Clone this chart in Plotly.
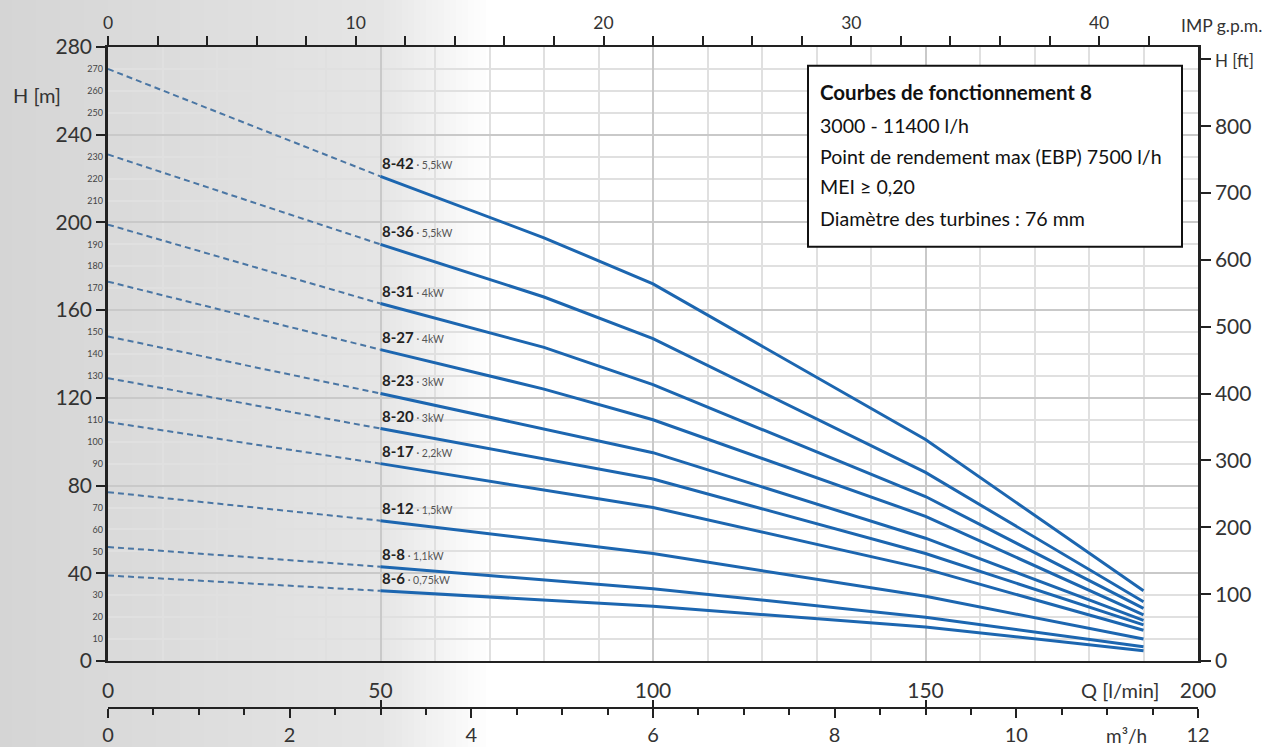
import plotly.graph_objects as go

# ---------------- data ----------------
Q_DASHED = [0, 50]                     # l/min, extrapolated part (dashed)
Q_SOLID = [50, 80, 100, 150, 190]      # l/min, operating range (solid)

MODELS = ["8-42", "8-36", "8-31", "8-27", "8-23", "8-20", "8-17", "8-12", "8-8", "8-6"]
POWERS = ["5,5kW", "5,5kW", "4kW", "4kW", "3kW", "3kW", "2,2kW", "1,5kW", "1,1kW", "0,75kW"]

# head H [m] at Q = 0, 50, 80, 100, 150, 190 l/min
H_8_42 = [270, 221, 193, 172, 101, 32]
H_8_36 = [231, 190, 166, 147, 86, 27]
H_8_31 = [199, 163, 143, 126, 75, 24]
H_8_27 = [173, 142, 124, 110, 66, 21]
H_8_23 = [148, 122, 106, 95, 56, 18.5]
H_8_20 = [129, 106, 92, 83, 49, 16.5]
H_8_17 = [109, 90, 78, 70, 42, 14]
H_8_12 = [77, 64, 55, 49, 29.5, 10]
H_8_8 = [52, 43, 37, 33, 20, 6.5]
H_8_6 = [39, 32, 28, 25, 15.5, 4.7]
HEADS = [H_8_42, H_8_36, H_8_31, H_8_27, H_8_23, H_8_20, H_8_17, H_8_12, H_8_8, H_8_6]

Q_TICKS = [0, 50, 100, 150, 200]
M3H_TICKS = [0, 2, 4, 6, 8, 10, 12]
GPM_TICKS = [0, 10, 20, 30, 40]
H_M_MAJOR = [0, 40, 80, 120, 160, 200, 240, 280]
H_M_MINOR = [v for v in range(10, 280, 10) if v % 40 != 0]
H_FT_TICKS = [0, 100, 200, 300, 400, 500, 600, 700, 800, 900]
H_FT_TEXT = ["0", "100", "200", "300", "400", "500", "600", "700", "800",
             "<span style='font-size:17px'>H [ft]</span>"]

INFO_TITLE = "Courbes de fonctionnement 8"
INFO_LINES = ["3000 - 11400 l/h",
              "Point de rendement max (EBP) 7500 l/h",
              "MEI \u2265 0,20",
              "Diamètre des turbines : 76 mm"]

# ---------------- geometry helpers ----------------
W, HGT = 1266, 747
ML, MR, MT, MB = 108, 68, 47, 0
PW = W - ML - MR
PH = HGT - MT - MB


def px(xp):
    return (xp - ML) / PW


def py(yp):
    return (HGT - MB - yp) / PH


Y_BOTTOM = 661
D0 = py(Y_BOTTOM)

FONT = "Lato, Roboto, sans-serif"
TXT = "#333333"
BLUE = "#1c66b0"
DASHBLUE = "#4a76a4"

fig = go.Figure()

for name, pw, h in zip(MODELS, POWERS, HEADS):
    fig.add_trace(go.Scatter(x=Q_DASHED, y=h[:2], mode="lines",
                             line=dict(color=DASHBLUE, width=2, dash="6px,4px"),
                             hoverinfo="skip", showlegend=False))
    fig.add_trace(go.Scatter(x=Q_SOLID, y=h[1:], mode="lines",
                             line=dict(color=BLUE, width=3),
                             name=name, showlegend=False))
    fig.add_annotation(x=Q_SOLID[0], y=h[1], xref="x", yref="y",
                       text=f"<b>{name}</b><span style='font-size:10.5px;color:#555'> \u00b7 {pw}</span>",
                       showarrow=False, xanchor="left", yanchor="bottom", yshift=2, xshift=-1,
                       font=dict(family=FONT, size=15, color="#222"))

# background gradient strips on the left
shapes = []
step = 6
for xp in range(0, 510, step):
    c = xp + step / 2
    if c < 380:
        g = 213 + (229 - 213) * c / 380
    else:
        g = 229 + (255 - 229) * (c - 380) / 110
    g = int(min(255, round(g)))
    shapes.append(dict(type="rect", xref="paper", yref="paper",
                       x0=px(xp), x1=px(xp + step + 0.5), y0=0, y1=py(0),
                       fillcolor=f"rgb({g},{g},{g})", line=dict(width=0), layer="below"))

# info box
shapes.append(dict(type="rect", xref="paper", yref="paper",
                   x0=px(808), x1=px(1182), y0=py(246.7), y1=py(65.7),
                   fillcolor="white", line=dict(color="#111", width=2), layer="above"))

ann_y = [125, 156, 187, 218]
fig.add_annotation(x=px(818), y=py(92), xref="paper", yref="paper", text=f"<b>{INFO_TITLE}</b>",
                   showarrow=False, xanchor="left", yanchor="middle",
                   font=dict(family=FONT, size=20.5, color="#111"))
for t, yy in zip(INFO_LINES, ann_y):
    fig.add_annotation(x=px(818), y=py(yy), xref="paper", yref="paper", text=t,
                       showarrow=False, xanchor="left", yanchor="middle",
                       font=dict(family=FONT, size=19.6, color="#111"))

# axis titles
fig.add_annotation(x=px(37), y=py(95), xref="paper", yref="paper", text="H [m]", showarrow=False,
                   xanchor="center", yanchor="middle", font=dict(family=FONT, size=20, color=TXT))
fig.add_annotation(x=px(1221), y=py(26), xref="paper", yref="paper", text="IMP g.p.m.", showarrow=False,
                   xanchor="center", yanchor="middle", font=dict(family=FONT, size=17.5, color=TXT))
fig.add_annotation(x=px(1120), y=py(690), xref="paper", yref="paper", text="Q [l/min]", showarrow=False,
                   xanchor="center", yanchor="middle", font=dict(family=FONT, size=20, color=TXT))
fig.add_annotation(x=px(1126), y=py(735), xref="paper", yref="paper", text="m\u00b3/h", showarrow=False,
                   xanchor="center", yanchor="middle", font=dict(family=FONT, size=19, color=TXT))

axis_common = dict(zeroline=False, showgrid=False, fixedrange=True, automargin=False)

fig.update_layout(
    width=W, height=HGT,
    margin=dict(l=ML, r=MR, t=MT, b=MB, pad=0, autoexpand=False),
    paper_bgcolor="white", plot_bgcolor="rgba(0,0,0,0)",
    font=dict(family=FONT, color=TXT),
    shapes=shapes,
    showlegend=False,
    xaxis=dict(range=[0, 200], domain=[0, 1], anchor="y", side="bottom",
               tickmode="array", tickvals=Q_TICKS, ticktext=[str(v) for v in Q_TICKS],
               ticks="", ticklabelstandoff=10, tickfont=dict(size=21, color=TXT),
               showline=True, linecolor="#222", linewidth=2,
               showgrid=True, gridcolor="#c9c9c9", gridwidth=1.5,
               minor=dict(tickmode="linear", tick0=0, dtick=10, showgrid=True,
                          gridcolor="#e0e0e0", gridwidth=2, ticks=""),
               zeroline=False, fixedrange=True, automargin=False),
    xaxis2=dict(range=[0, 12], overlaying="x", anchor="free", position=py(708), side="bottom",
                tickmode="array", tickvals=M3H_TICKS, ticktext=[str(v) for v in M3H_TICKS],
                ticks="outside", ticklen=9, tickwidth=2, tickcolor="#222",
                tickfont=dict(size=20, color=TXT), ticklabelstandoff=0,
                minor=dict(tickmode="linear", tick0=0, dtick=0.5, ticks="outside",
                           ticklen=6, tickwidth=1.5, tickcolor="#222", showgrid=False),
                showline=True, linecolor="#222", linewidth=2, **axis_common),
    xaxis4=dict(range=[0, 200], overlaying="x", anchor="free", position=py(708), side="bottom",
                tickmode="array", tickvals=Q_TICKS, ticks="inside", ticklen=8, tickwidth=2,
                tickcolor="#222", showticklabels=False, showline=False, **axis_common),
    xaxis3=dict(range=[0, 200 / 4.54609], overlaying="x", anchor="y", side="top",
                tickmode="array", tickvals=GPM_TICKS, ticktext=[str(v) for v in GPM_TICKS],
                ticks="outside", ticklen=9, tickwidth=2, tickcolor="#222",
                tickfont=dict(size=17.5, color=TXT),
                minor=dict(tickmode="linear", tick0=0, dtick=2, ticks="outside",
                           ticklen=9, tickwidth=1.5, tickcolor="#222", showgrid=False),
                showline=True, linecolor="#222", linewidth=2, **axis_common),
    yaxis=dict(range=[0, 280], domain=[D0, 1], anchor="x", side="left",
               tickmode="array", tickvals=H_M_MAJOR, ticktext=[str(v) for v in H_M_MAJOR],
               ticks="outside", ticklen=9, tickwidth=2, tickcolor="#222",
               tickfont=dict(size=21, color=TXT),
               showline=True, linecolor="#222", linewidth=2.5,
               showgrid=True, gridcolor="#c9c9c9", gridwidth=1.5,
               minor=dict(tickmode="linear", tick0=0, dtick=10, showgrid=True,
                          gridcolor="#e0e0e0", gridwidth=2, ticks=""),
               zeroline=False, fixedrange=True, automargin=False),
    yaxis3=dict(range=[0, 280], overlaying="y", anchor="x", side="left",
                tickmode="array", tickvals=H_M_MINOR, ticktext=[str(v) for v in H_M_MINOR],
                ticks="", tickfont=dict(size=9, color="#444"), ticklabelstandoff=4,
                showline=False, **axis_common),
    yaxis2=dict(range=[0, 280 / 0.3048], overlaying="y", anchor="x", side="right",
                tickmode="array", tickvals=H_FT_TICKS, ticktext=H_FT_TEXT,
                ticks="outside", ticklen=10, tickwidth=2, tickcolor="#222",
                tickfont=dict(size=21, color=TXT),
                showline=True, linecolor="#222", linewidth=2.5, **axis_common),
)

# invisible traces so that the extra axes are rendered
fig.add_trace(go.Scatter(x=[0, 12], y=[0, 0], xaxis="x2", yaxis="y", mode="lines",
                         line=dict(width=0), hoverinfo="skip", showlegend=False))
fig.add_trace(go.Scatter(x=[0, 40], y=[0, 0], xaxis="x3", yaxis="y", mode="lines",
                         line=dict(width=0), hoverinfo="skip", showlegend=False))
fig.add_trace(go.Scatter(x=[0, 200], y=[0, 0], xaxis="x4", yaxis="y", mode="lines",
                         line=dict(width=0), hoverinfo="skip", showlegend=False))
fig.add_trace(go.Scatter(x=[0, 200], y=[0, 0], xaxis="x", yaxis="y2", mode="lines",
                         line=dict(width=0), hoverinfo="skip", showlegend=False))
fig.add_trace(go.Scatter(x=[0, 200], y=[0, 0], xaxis="x", yaxis="y3", mode="lines",
                         line=dict(width=0), hoverinfo="skip", showlegend=False))

fig.write_html("out.html", config={"displayModeBar": False},
               post_script="document.body.style.margin='0';document.body.style.padding='0';"
                           "document.body.style.overflow='hidden';")
